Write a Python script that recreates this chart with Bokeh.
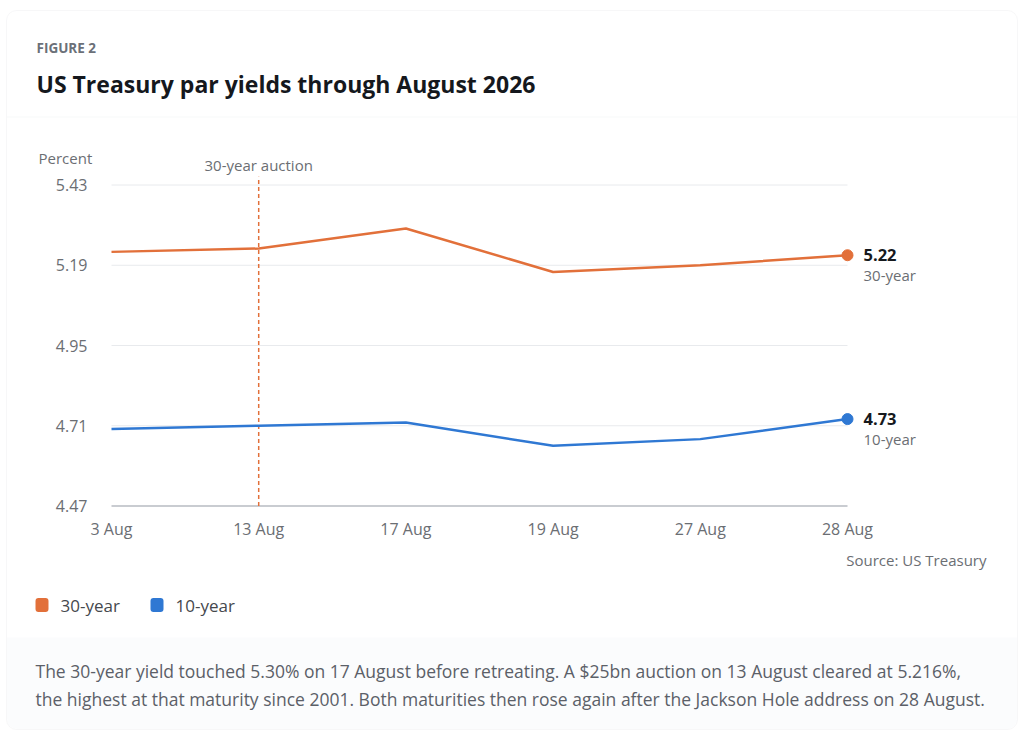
from bokeh.plotting import figure
from bokeh.models import Range1d, Label, BoxAnnotation, ColumnDataSource
from bokeh.core.properties import value
from bokeh.embed import file_html
from bokeh.resources import INLINE

# ---------------- data ----------------
DATES = ["3 Aug", "13 Aug", "17 Aug", "19 Aug", "27 Aug", "28 Aug"]
Y30 = [5.23, 5.24, 5.30, 5.17, 5.19, 5.22]
Y10 = [4.70, 4.71, 4.72, 4.65, 4.67, 4.73]
SERIES = ["30-year", "10-year"]
YTICKS = [4.47, 4.71, 4.95, 5.19, 5.43]
AUCTION_INDEX = 1
AUCTION_LABEL = "30-year auction"
EYEBROW = "FIGURE 2"
TITLE = "US Treasury par yields through August 2026"
YLABEL = "Percent"
SOURCE = "Source: US Treasury"
FOOTER_LINES = [
    "The 30-year yield touched 5.30% on 17 August before retreating. A $25bn auction on 13 August cleared at 5.216%,",
    "the highest at that maturity since 2001. Both maturities then rose again after the Jackson Hole address on 28 August.",
]

# ---------------- styling / layout ----------------
ORANGE = "#e2703a"
BLUE = "#2f78d3"
GRAY_TXT = "#6b6e73"
FONT = "Open Sans"
VF = value(FONT)

W, H = 1024, 739
# pixel anchors of the plotting area inside the canvas
PX_LEFT, PX_RIGHT = 111, 847       # first / last category
PX_TOP, PX_BOTTOM = 184.5, 505.5   # top / bottom y tick

x = list(range(len(DATES)))
ux = (PX_RIGHT - PX_LEFT) / (x[-1] - x[0])
uy = (PX_BOTTOM - PX_TOP) / (YTICKS[-1] - YTICKS[0])
x_range = Range1d(x[0] - PX_LEFT / ux, x[-1] + (W - PX_RIGHT) / ux)
y_range = Range1d(YTICKS[0] - (H - PX_BOTTOM) / uy, YTICKS[-1] + PX_TOP / uy)

p = figure(width=W, height=H, output_backend="svg", toolbar_location=None,
           x_range=x_range, y_range=y_range,
           x_axis_location=None, y_axis_location=None,
           min_border=0)
p.outline_line_color = None
p.grid.visible = False
p.background_fill_color = "white"
p.border_fill_color = "white"


def sx(px):
    return px


def sy(py):
    return H - py


def box(l, r, t, b, **kw):
    return BoxAnnotation(left=sx(l), right=sx(r), top=sy(t), bottom=sy(b),
                         left_units="screen", right_units="screen",
                         top_units="screen", bottom_units="screen", **kw)


# card, footer panel, separator
p.add_layout(box(6, 1017, 10, 729, fill_color="white", line_color="#e4e6e9", line_width=1,
                 border_radius=10, level="underlay"))
p.add_layout(box(6.5, 1016.5, 637, 728.5, fill_color="#f5f7f9", line_color=None,
                 border_radius=(0, 0, 10, 10), level="underlay"))
p.add_layout(box(6.5, 1016.5, 116, 117, fill_color="#eef0f2", line_color=None, level="underlay"))

# gridlines + baseline from ticks
grid = ColumnDataSource(dict(x0=[x[0]] * (len(YTICKS) - 1), x1=[x[-1]] * (len(YTICKS) - 1),
                             y=YTICKS[1:]))
p.segment(x0="x0", x1="x1", y0="y", y1="y", source=grid, line_color="#e8eaed", line_width=1)
p.segment(x0=[x[0]], x1=[x[-1]], y0=[YTICKS[0]], y1=[YTICKS[0]], line_color="#c9ccd1", line_width=2)

# tick labels
p.text(x=[x[0]] * len(YTICKS), y=YTICKS, text=[f"{t:.2f}" for t in YTICKS],
       x_offset=-24, text_align="right", text_baseline="middle",
       text_font=VF, text_font_size="16px", text_color=GRAY_TXT)
p.text(x=x, y=[YTICKS[0]] * len(x), text=DATES, y_offset=23,
       text_align="center", text_baseline="middle",
       text_font=VF, text_font_size="16px", text_color=GRAY_TXT)

# auction marker
p.segment(x0=[AUCTION_INDEX], x1=[AUCTION_INDEX], y0=[YTICKS[0]], y1=[YTICKS[-1] + 0.025],
          line_color=ORANGE, line_width=1.5, line_dash="4 3")
p.text(x=[AUCTION_INDEX], y=[YTICKS[-1]], text=[AUCTION_LABEL], y_offset=-20,
       text_align="center", text_baseline="middle",
       text_font=VF, text_font_size="15px", text_color=GRAY_TXT)

# series
for ys, col, name in ((Y30, ORANGE, SERIES[0]), (Y10, BLUE, SERIES[1])):
    p.line(x, ys, line_color=col, line_width=2.5)
    p.scatter([x[-1]], [ys[-1]], size=11, fill_color=col, line_color=col)
    p.text(x=[x[-1]], y=[ys[-1]], text=[f"{ys[-1]:.2f}"], x_offset=16,
           text_baseline="middle", text_font=VF, text_font_style="bold",
           text_font_size="16.5px", text_color="#16191d")
    p.text(x=[x[-1]], y=[ys[-1]], text=[name], x_offset=16, y_offset=20,
           text_baseline="middle", text_font=VF,
           text_font_size="15px", text_color=GRAY_TXT)


def lab(text, px, py, size, color, bold=False, align="left"):
    p.add_layout(Label(x=sx(px), y=sy(py), x_units="screen", y_units="screen", text=text,
                       text_align=align, text_baseline="middle", text_font=FONT,
                       text_font_size=size, text_color=color,
                       text_font_style="bold" if bold else "normal"))


lab(EYEBROW, 36, 47, "13.5px", "#6b7078", bold=True)
lab(TITLE, 36, 83, "23px", "#15181d", bold=True)
lab(YLABEL, 38, 157, "15px", GRAY_TXT)
lab(SOURCE, 986, 559, "15px", GRAY_TXT, align="right")

# legend
for i, (name, col) in enumerate(zip(SERIES, (ORANGE, BLUE))):
    x0 = 35 + i * 115
    p.add_layout(box(x0, x0 + 13, 597.5, 611.5, fill_color=col, fill_alpha=1,
                     line_color=None, border_radius=3, level="overlay"))
    lab(name, x0 + 25, 605, "17px", "#45484d")

for i, line in enumerate(FOOTER_LINES):
    lab(line, 35, 670 + i * 28, "17.5px", "#5b6068")

open("out.html", "w").write(file_html(p, INLINE))
